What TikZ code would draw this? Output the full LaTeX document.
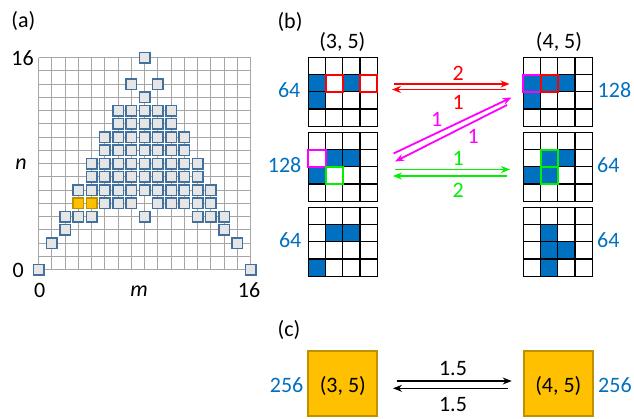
\documentclass[tikz,border=0pt]{standalone}
\usepackage{fontspec}
\setmainfont{Carlito}
\usetikzlibrary{arrows.meta}
\definecolor{cblue}{HTML}{0070C0}
\definecolor{gridgray}{HTML}{A6A6A6}
\definecolor{sqfill}{HTML}{E7E6E6}
\definecolor{sqedge}{HTML}{41719C}
\definecolor{orfill}{HTML}{FFC000}
\definecolor{oredge}{HTML}{BF9000}
\definecolor{cgreen}{HTML}{00F000}
\definecolor{cred}{HTML}{FF0000}
\definecolor{cmag}{HTML}{FF00FF}
\newcommand{\cellgrid}[3]{%
  \foreach \c/\r in {#3} {\fill[cblue] ({#1+(\c-1)*17.25},{#2+(\r-1)*17.25}) rectangle ++(17.25,17.25);}
  \foreach \k in {1,2,3} {
    \draw[cellline] ({#1+\k*17.25},#2) -- ++(0,69);
    \draw[cellline] (#1,{#2+\k*17.25}) -- ++(69,0);
  }
  \draw[cellline, line width=1.6pt] (#1,#2) rectangle ++(69,69);
}
\newcommand{\hl}[5]{% x0 y0 col row color
  \draw[#5, line width=2pt] ({#1+(#3-1)*17.25},{#2+(#4-1)*17.25}) rectangle ++(17.25,17.25);
}
\begin{document}
\begin{tikzpicture}[x=1pt,y=-1pt,
  font=\fontsize{22}{26}\selectfont,
  lbl/.style={inner sep=0pt, anchor=center},
  num/.style={inner sep=0pt, text=cblue},
  pnt/.style={draw=sqedge, fill=sqfill, line width=1.5pt, minimum size=10.5pt, inner sep=0pt},
  opnt/.style={draw=oredge, fill=orfill, line width=1.5pt, minimum size=10.5pt, inner sep=0pt},
  cellline/.style={draw=black, line width=1.2pt},
  arr/.style={line width=1.8pt, -{Stealth[length=9pt,width=7pt]}},
  obox/.style={draw=oredge, fill=orfill, line width=2pt, minimum width=69pt, minimum height=65pt, inner sep=0pt},
  lab/.style={inner sep=0pt}
]
\useasboundingbox (0,0) rectangle (634,418);

% ---------- panel (a)
\node[lab] (la) at (23.3,20.7) {(a)};
\foreach \i in {0,...,16} {
  \draw[gridgray, line width=1pt] ({38.5+\i*13.25},57.5) -- ({38.5+\i*13.25},269.5);
  \draw[gridgray, line width=1pt] (38.5,{57.5+\i*13.25}) -- (250.5,{57.5+\i*13.25});
}
\foreach \n/\lst in {0/{0,16}, 2/{1,15}, 3/{2,14}, 4/{2,3,4,8,12,13,14},
   5/{5,6,7,9,10,11,12,13}, 6/{3,...,13}, 7/{4,...,12}, 8/{4,...,12},
   9/{5,...,11}, 10/{5,...,11}, 11/{6,...,10}, 12/{6,...,10}, 13/{8}, 14/{7,9}, 16/{8}} {
  \foreach \m in \lst {
    \node[pnt] (p-\m-\n) at ({38.5+\m*13.25},{269.5-\n*13.25}) {};
  }
}
\foreach \m in {3,4} {
  \node[opnt] (o-\m) at ({38.5+\m*13.25},{269.5-5*13.25}) {};
}
\node[lab] (y16) at (22.5,58) {16};
\node[lab] (y0) at (18.3,270) {0};
\node[lab] (x0) at (39.7,290.5) {0};
\node[lab] (x16) at (249,290.5) {16};
\node[lab] (xm) at (139,291) {\itshape m};
\node[lab] (yn) at (21,164) {\itshape n};

% ---------- panel (b)
\node[lab] (lb) at (290,21.7) {(b)};
\node[lab] (h35) at (342.3,42) {(3, 5)};
\node[lab] (h45) at (559,42) {(4, 5)};

\cellgrid{308.3}{57.3}{1/2,3/2,1/3}
\hl{308.3}{57.3}{2}{2}{cred}
\hl{308.3}{57.3}{4}{2}{cred}
\cellgrid{523.3}{57.3}{1/2,2/2,3/2,1/3}
\hl{523.3}{57.3}{1}{2}{cmag}
\hl{523.3}{57.3}{2}{2}{cred}
\cellgrid{308.3}{132.3}{2/2,3/2,1/3}
\hl{308.3}{132.3}{1}{2}{cmag}
\hl{308.3}{132.3}{2}{3}{cgreen}
\cellgrid{523.3}{132.3}{2/2,3/2,1/3,2/3}
\hl{523.3}{132.3}{2}{2}{cgreen}
\hl{523.3}{132.3}{2}{3}{cgreen}
\cellgrid{308.3}{207.3}{2/2,3/2,1/4}
\cellgrid{523.3}{207.3}{2/2,2/3,3/3,2/4}

\node[num, anchor=east] (nl1) at (300.5,90) {64};
\node[num, anchor=east] (nl2) at (301.5,165) {128};
\node[num, anchor=east] (nl3) at (301.5,240) {64};
\node[num, anchor=west] (nr1) at (597.5,90) {128};
\node[num, anchor=west] (nr2) at (597,165) {64};
\node[num, anchor=west] (nr3) at (597,240) {64};

% arrows (b)
\coordinate (ra1) at (394,84);    \coordinate (rb1) at (509.5,84);
\coordinate (ra2) at (506,89.5);  \coordinate (rb2) at (392,89.5);
\coordinate (ma1) at (393.5,153.5); \coordinate (mb1) at (511.5,97.5);
\coordinate (ma2) at (507,105);   \coordinate (mb2) at (395,161.5);
\coordinate (ga1) at (395,169.5); \coordinate (gb1) at (510,169.5);
\coordinate (ga2) at (507,176);   \coordinate (gb2) at (393,176);
\draw[arr, cred] (ra1) -- (rb1);
\draw[arr, cred] (ra2) -- (rb2);
\draw[arr, cmag] (ma1) -- (mb1);
\draw[arr, cmag] (ma2) -- (mb2);
\draw[arr, cgreen] (ga1) -- (gb1);
\draw[arr, cgreen] (ga2) -- (gb2);
\node[lab, text=cred] (tr1) at (458.3,73.3) {2};
\node[lab, text=cred] (tr2) at (458.3,102.7) {1};
\node[lab, text=cmag] (tm1) at (436.7,119.3) {1};
\node[lab, text=cmag] (tm2) at (473.3,136) {1};
\node[lab, text=cgreen] (tg1) at (458.3,158.3) {1};
\node[lab, text=cgreen] (tg2) at (458.3,190) {2};

% ---------- panel (c)
\node[lab] (lc) at (289,330) {(c)};
\node[obox] (c35) at (342.8,383.5) {};
\node[obox] (c45) at (558.3,383.5) {};
\node[lab] (c35t) at (342.8,385.5) {(3, 5)};
\node[lab] (c45t) at (558.3,385.5) {(4, 5)};
\node[num, anchor=east] (cl) at (303.5,385.5) {256};
\node[num, anchor=west] (cr) at (598,385.5) {256};
\coordinate (ka1) at (396.7,381); \coordinate (kb1) at (511.7,381);
\coordinate (ka2) at (508,388.3); \coordinate (kb2) at (393,388.3);
\draw[arr, line width=1.4pt, black] (ka1) -- (kb1);
\draw[arr, line width=1.4pt, black] (ka2) -- (kb2);
\node[lab] (t15a) at (453,368.5) {1.5};
\node[lab] (t15b) at (453,404.5) {1.5};
\end{tikzpicture}
\end{document}
